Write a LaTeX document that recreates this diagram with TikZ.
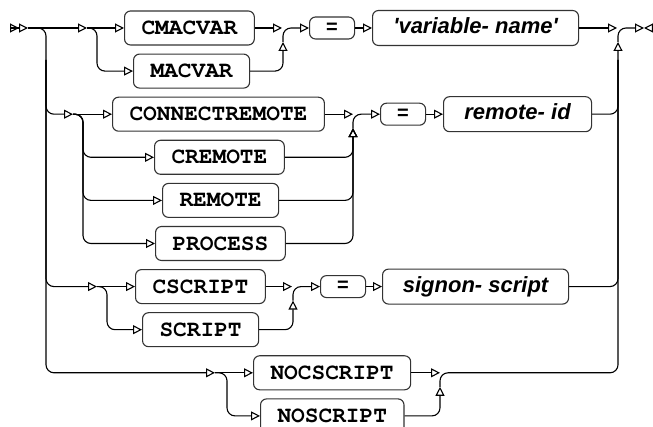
\documentclass[tikz,border=0pt]{standalone}
\usepackage{fontspec}
\newfontfamily\varfont{Liberation Sans}
\newcommand\kwfont{\fontencoding{T1}\fontfamily{pcr}\fontseries{b}\selectfont}
\usetikzlibrary{arrows.meta}
\tikzset{
    >={Triangle[open,length=9pt,width=9pt]},
    kw/.style ={
        shape=rectangle,
        draw=black!80,
        rounded corners=6pt,
        anchor=west,
        minimum height=34pt,
        inner xsep=17pt,
        font=\kwfont\fontsize{22.8pt}{24pt}\selectfont
    },
    var/.style ={
        shape=rectangle,
        draw=black!80,
        rounded corners=6pt,
        anchor=west,
        minimum height=35pt,
        inner xsep=12pt,
        text height=16pt,
        text depth=4.5pt,
        font=\varfont\bfseries\itshape\fontsize{22pt}{24pt}\selectfont
    },
    eq/.style ={
        shape=rectangle,
        draw=black!80,
        rounded corners=6pt,
        anchor=west,
        minimum width=45pt,
        minimum height=22pt,
        inner sep=0pt,
        font=\varfont\bfseries\fontsize{20pt}{22pt}\selectfont
    },
    rail/.style ={
        rounded corners=8pt
    }
}

\begin{document}
\begin{tikzpicture}[x=1pt,y=-1pt,line width=1.1pt]
        \useasboundingbox (0,0) rectangle (653,427);
        \node[kw] (cmacvar) at (124,28) {CMACVAR};
        \node[kw] (macvar) at (133,71.1) {MACVAR};
        \node[eq] (eqa) at (309,28) {=};
        \node[var,minimum width=206pt] (varname) at (372,28) {\textquotesingle variable- name\textquotesingle};
        \node[kw] (connect) at (112,114.2) {CONNECTREMOTE};
        \node[kw] (cremote) at (154,157.3) {CREMOTE};
        \node[kw] (remote) at (162,200.4) {REMOTE};
        \node[kw] (process) at (155,243.5) {PROCESS};
        \node[eq] (eqb) at (380,114.2) {=};
        \node[var,minimum width=148pt] (remoteid) at (443,114.2) {remote- id};
        \node[kw] (cscript) at (135,286.6) {CSCRIPT};
        \node[kw] (script) at (142,329.7) {SCRIPT};
        \node[eq] (eqc) at (320,286.6) {=};
        \node[var,minimum width=186pt] (signon) at (382,286.6) {signon- script};
        \node[kw] (nocscript) at (253,372.8) {NOCSCRIPT};
        \node[kw] (noscript) at (260,415.9) {NOSCRIPT};
        % rail points
        \coordinate (begin) at (10,28);
        \coordinate (s) at (28,28);
        \coordinate (lt) at (46,60);
        \coordinate (lb) at (46,372.8);
        \coordinate (ja) at (87,28);
        \coordinate (ba) at (97,28);
        \coordinate (ma) at (282,28);
        \coordinate (mau) at (283,42);
        \coordinate (jb) at (73,114.2);
        \coordinate (bb) at (83,114.2);
        \coordinate (mb) at (353,114.2);
        \coordinate (mbu) at (353,128.2);
        \coordinate (jc) at (97,286.6);
        \coordinate (bc) at (107,286.6);
        \coordinate (mc) at (292,286.6);
        \coordinate (mcu) at (293,300.6);
        \coordinate (jd) at (215,372.8);
        \coordinate (bd) at (227,372.8);
        \coordinate (md) at (440,372.8);
        \coordinate (mdu) at (440,386.8);
        \coordinate (rt) at (618,60);
        \coordinate (rb) at (618,372.8);
        \coordinate (ta) at (617,28);
        \coordinate (tu) at (618,42);
        \coordinate (e1) at (644,28);
        \coordinate (e2) at (653,28);
        % start
        \draw[->>] (begin) -- (s);
        \draw[->] (s) -- (ja);
        \draw[->,rail] (s) -| (lb) -- (jd);
        \draw[->,rail] (lt) |- (jb);
        \draw[->,rail] (lt) |- (jc);
        % first group
        \draw[->] (ja) -- (cmacvar);
        \draw[->,rail] (ja) -- (ba) |- (macvar.west);
        \draw[->] (cmacvar) -- (ma);
        \draw[->,rail] (macvar.east) -| (mau);
        \draw[->,rail] (mau) |- (eqa.west);
        \draw[->] (eqa) -- (varname);
        \draw[->] (varname) -- (ta);
        % second group
        \draw[->] (jb) -- (connect);
        \draw[->,rail] (jb) -- (bb) |- (cremote.west);
        \draw[->,rail] (jb) -- (bb) |- (remote.west);
        \draw[->,rail] (jb) -- (bb) |- (process.west);
        \draw[->] (connect) -- (mb);
        \draw[->,rail] (cremote.east) -| (mbu);
        \draw[->,rail] (remote.east) -| (mbu);
        \draw[->,rail] (process.east) -| (mbu);
        \draw[->,rail] (mbu) |- (eqb.west);
        \draw[->] (eqb) -- (remoteid);
        \draw[rail] (remoteid.east) -| (rt);
        % third group
        \draw[->] (jc) -- (cscript);
        \draw[->,rail] (jc) -- (bc) |- (script.west);
        \draw[->] (cscript) -- (mc);
        \draw[->,rail] (script.east) -| (mcu);
        \draw[->,rail] (mcu) |- (eqc.west);
        \draw[->] (eqc) -- (signon);
        \draw[rail] (signon.east) -| (rt);
        % fourth group
        \draw[->] (jd) -- (nocscript);
        \draw[->,rail] (jd) -- (bd) |- (noscript.west);
        \draw[->] (nocscript) -- (md);
        \draw[->,rail] (noscript.east) -| (mdu);
        \draw[->,rail] (mdu) |- (rb) -- (tu);
        % end
        \draw[->,rail] (tu) |- (e1);
        \draw[->] (e2) -- (e1);
\end{tikzpicture}
\end{document}
